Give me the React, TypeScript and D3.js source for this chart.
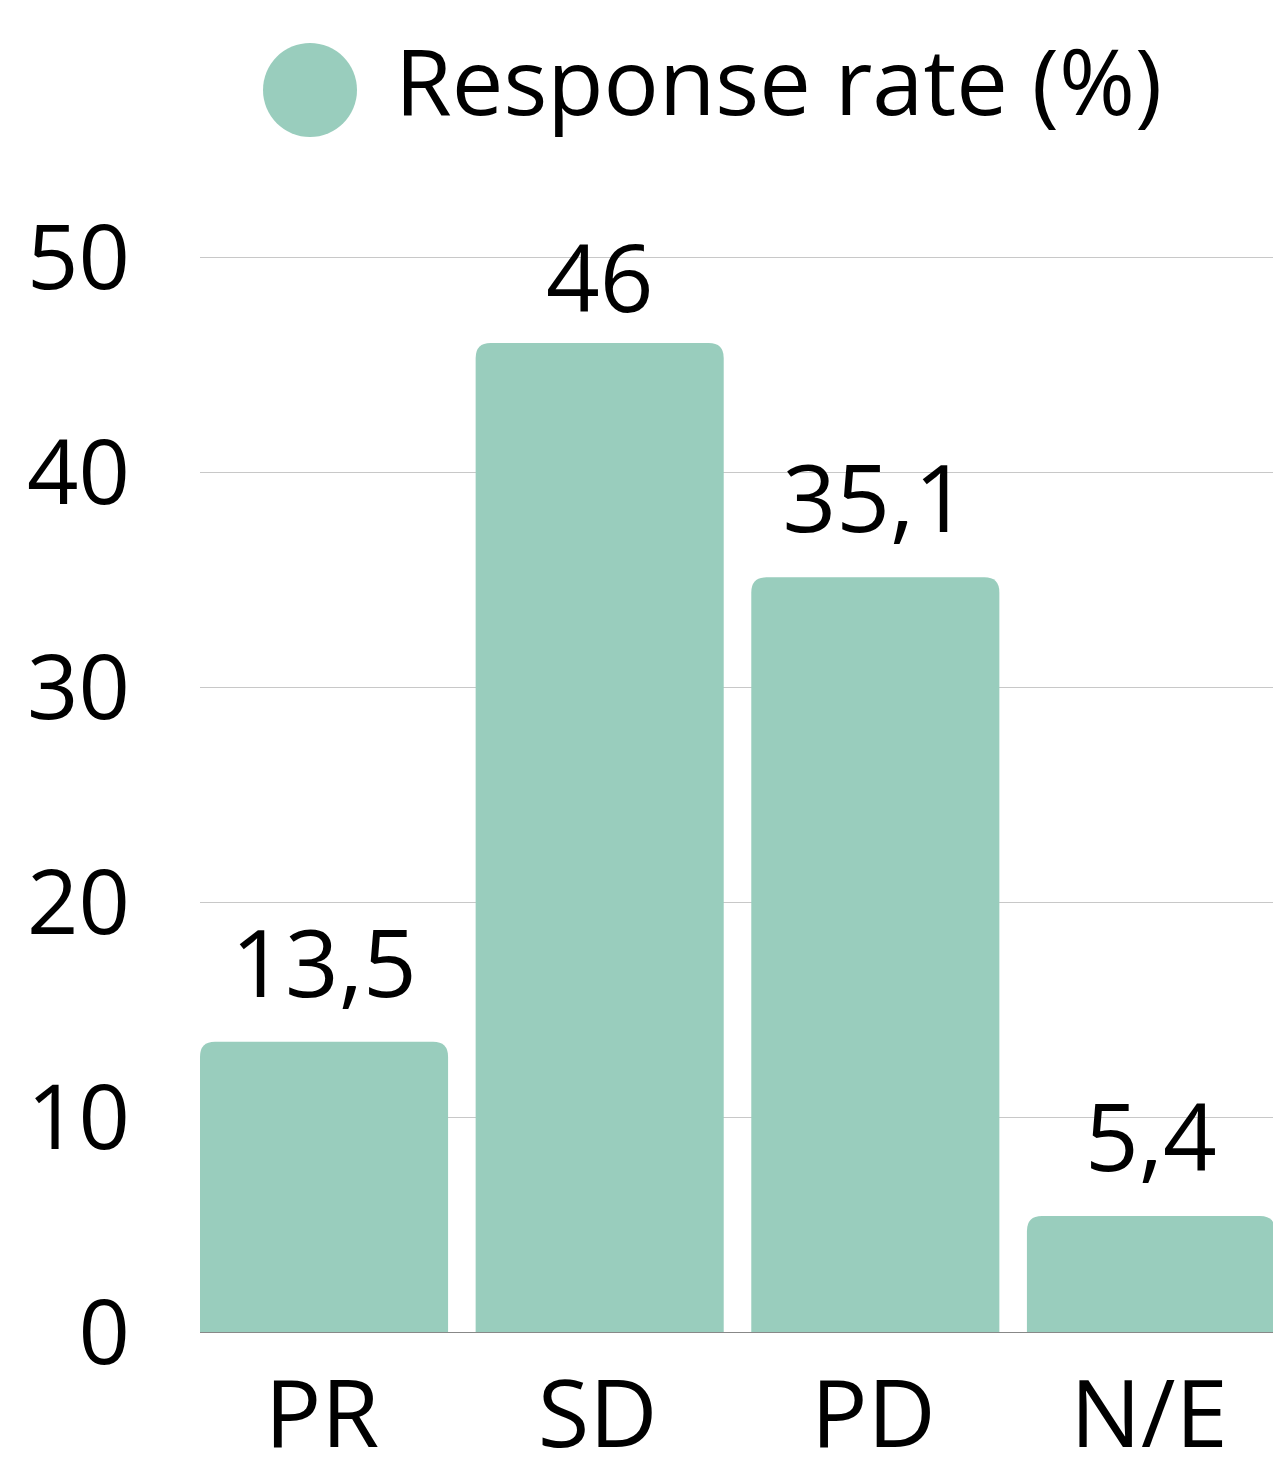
import React from 'react'
import { scaleBand, scaleLinear } from 'd3'

const categories = ['PR', 'SD', 'PD', 'N/E']
const responseRate = [13.5, 46, 35.1, 5.4]
const valueLabels = ['13,5', '46', '35,1', '5,4']
const yTicks = [0, 10, 20, 30, 40, 50]

const W = 1273
const H = 1457
const color = '#99cdbd'
const font = '"Open Sans", "Noto Sans", sans-serif'

// path for a bar with rounded top corners only
const topRounded = (x: number, y: number, w: number, h: number, r: number) =>
  `M${x},${y + h}V${y + r}Q${x},${y} ${x + r},${y}H${x + w - r}Q${x + w},${y} ${x + w},${y + r}V${y + h}Z`

const App = () => {
  const x = scaleBand().domain(categories).range([200, 1275]).paddingInner(0.1).paddingOuter(0)
  const y = scaleLinear().domain([0, 50]).range([1332, 257])

  return (
    <svg width={W} height={H} style={{ position: 'absolute', left: 0, top: 0 }} fontFamily={font}>
      <circle cx={310} cy={90} r={47} fill={color} />
      <text x={395} y={115} fontSize={92} fill="#000">Response rate (%)</text>

      {yTicks.map((t) => (
        <g key={t}>
          {t > 0 && <line x1={200} x2={W} y1={y(t) + 0.5} y2={y(t) + 0.5} stroke="#c8c8c8" strokeWidth={1} />}
          <text x={130} y={y(t)} dy="0.36em" textAnchor="end" fontSize={90} fill="#000">{t}</text>
        </g>
      ))}
      <line x1={200} x2={W} y1={y(0) + 0.5} y2={y(0) + 0.5} stroke="#888" strokeWidth={1} />

      {categories.map((c, i) => {
        const bx = x(c) as number
        const bw = x.bandwidth()
        const top = y(responseRate[i])
        return (
          <g key={c}>
            <path d={topRounded(bx, top, bw, y(0) - top, 15)} fill={color} />
            <text x={bx + bw / 2} y={Math.max(top - 45, 312)} textAnchor="middle" fontSize={94} fill="#000">{valueLabels[i]}</text>
            <text x={bx + bw / 2 - 2} y={1447} textAnchor="middle" fontSize={94} fill="#000">{c}</text>
          </g>
        )
      })}
    </svg>
  )
}

export default App
